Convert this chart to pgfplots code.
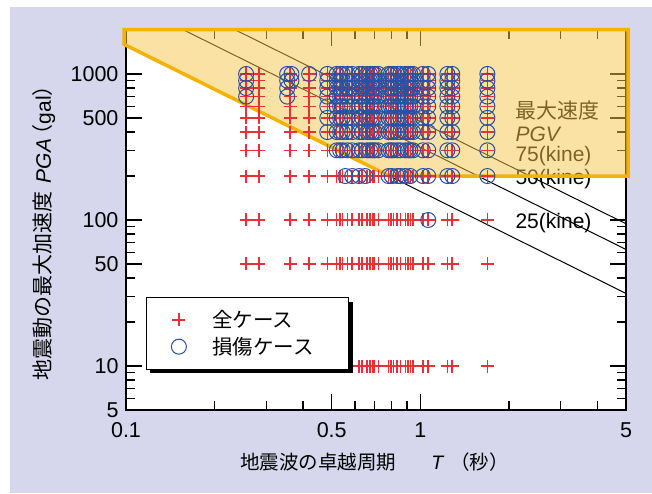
\documentclass[border=0pt]{standalone}
\usepackage{fontspec}
\setmainfont{Liberation Sans}
\newfontfamily\cjk{Noto Sans CJK JP}
\usepackage{pgfplots}
\pgfplotsset{compat=1.18}
\usetikzlibrary{shadows}
\definecolor{bgc}{RGB}{214,214,236}
\definecolor{pred}{RGB}{230,50,55}
\definecolor{pblue}{RGB}{40,80,165}
\definecolor{porange}{RGB}{245,178,0}
\definecolor{pfill}{RGB}{247,199,75}
\begin{document}
\begin{tikzpicture}
\useasboundingbox (-126pt,-83pt) rectangle (526pt,410pt);
\fill[white] (-126pt,-83pt) rectangle (526pt,410pt);
\fill[bgc] (-116pt,-83pt) rectangle (526pt,403pt);
\begin{axis}[
 scale only axis, width=500pt, height=380pt,
 xmode=log, ymode=log, xmin=0.1, xmax=5, ymin=5, ymax=2000,
 clip=false,
 axis background/.style={fill=white},
 axis line style={line width=1.6pt},
 xtick={0.1,0.5,1,5}, xticklabels={0.1,0.5,1,5},
 ytick={5,10,50,100,500,1000}, yticklabels={5,10,50,100,500,1000},
 minor xtick={0.2,0.3,0.4,0.6,0.7,0.8,0.9,2,3,4},
 minor ytick={6,7,8,9,20,30,40,60,70,80,90,200,300,400,600,700,800,900},
 major tick length=16pt, minor tick length=9pt,
 tick style={black, line width=1.4pt},
 tick label style={font=\fontsize{21.5}{25}\selectfont},
 yticklabel style={xshift=-4pt},
 xticklabel style={yshift=-9pt},
 xlabel={{\cjk 地震波の卓越周期}\hspace{1.8em}\textit{T}\hspace{0.3em}{\cjk （秒）}},
 xlabel style={at={(axis description cs:0.497,-0.137)}, anchor=center, font=\fontsize{19.5}{23}\selectfont},
 ylabel={{\cjk 地震動の最大加速度}\hspace{0.4em}\textit{PGA}\hspace{-0.3em}{\cjk （}gal{\cjk ）}},
 ylabel style={at={(axis description cs:-0.164,0.479)}, anchor=center, font=\fontsize{21}{25}\selectfont},
 legend style={at={(0.04,0.297)}, anchor=north west, draw=black, line width=0.8pt, fill=white,
   inner xsep=25pt, inner ysep=11pt, row sep=4pt, column sep=24pt,
   font=\cjk\fontsize{20.5}{24}\selectfont,
   drop shadow={shadow xshift=4pt, shadow yshift=-4pt, fill=black, opacity=1},
   nodes={inner sep=2pt}},
 legend cell align=left,
]
\addplot[only marks, mark=+, mark size=6.5pt, color=pred, line width=1.5pt] table[row sep=\\] {
x y\\
0.256 10\\0.283 10\\0.361 10\\0.419 10\\0.483 10\\0.52 10\\0.534 10\\0.545 10\\0.565 10\\0.587 10\\0.62 10\\0.635 10\\0.66 10\\0.675 10\\0.69 10\\0.70 10\\0.72 10\\0.78 10\\0.795 10\\0.81 10\\0.835 10\\0.855 10\\0.889 10\\0.91 10\\0.925 10\\0.945 10\\1.02 10\\1.064 10\\1.236 10\\1.284 10\\1.69 10\\
0.256 50\\0.283 50\\0.361 50\\0.419 50\\0.483 50\\0.52 50\\0.534 50\\0.545 50\\0.565 50\\0.587 50\\0.62 50\\0.635 50\\0.66 50\\0.675 50\\0.69 50\\0.70 50\\0.72 50\\0.78 50\\0.795 50\\0.81 50\\0.835 50\\0.855 50\\0.889 50\\0.91 50\\0.925 50\\0.945 50\\1.02 50\\1.064 50\\1.236 50\\1.284 50\\1.69 50\\
0.256 100\\0.283 100\\0.361 100\\0.419 100\\0.483 100\\0.52 100\\0.534 100\\0.545 100\\0.565 100\\0.587 100\\0.62 100\\0.635 100\\0.66 100\\0.675 100\\0.69 100\\0.70 100\\0.72 100\\0.78 100\\0.795 100\\0.81 100\\0.835 100\\0.855 100\\0.889 100\\0.91 100\\0.925 100\\0.945 100\\1.02 100\\1.064 100\\1.236 100\\1.284 100\\1.69 100\\
0.256 200\\0.283 200\\0.361 200\\0.419 200\\0.483 200\\0.52 200\\0.534 200\\0.545 200\\0.565 200\\0.587 200\\0.62 200\\0.635 200\\0.66 200\\0.675 200\\0.69 200\\0.70 200\\0.72 200\\0.78 200\\0.795 200\\0.81 200\\0.835 200\\0.855 200\\0.889 200\\0.91 200\\0.925 200\\0.945 200\\1.02 200\\1.064 200\\1.236 200\\1.284 200\\1.69 200\\
0.256 300\\0.283 300\\0.361 300\\0.419 300\\0.483 300\\0.52 300\\0.534 300\\0.545 300\\0.565 300\\0.587 300\\0.62 300\\0.635 300\\0.66 300\\0.675 300\\0.69 300\\0.70 300\\0.72 300\\0.78 300\\0.795 300\\0.81 300\\0.835 300\\0.855 300\\0.889 300\\0.91 300\\0.925 300\\0.945 300\\1.02 300\\1.064 300\\1.236 300\\1.284 300\\1.69 300\\
0.256 400\\0.283 400\\0.361 400\\0.419 400\\0.483 400\\0.52 400\\0.534 400\\0.545 400\\0.565 400\\0.587 400\\0.62 400\\0.635 400\\0.66 400\\0.675 400\\0.69 400\\0.70 400\\0.72 400\\0.78 400\\0.795 400\\0.81 400\\0.835 400\\0.855 400\\0.889 400\\0.91 400\\0.925 400\\0.945 400\\1.02 400\\1.064 400\\1.236 400\\1.284 400\\1.69 400\\
0.256 500\\0.283 500\\0.361 500\\0.419 500\\0.483 500\\0.52 500\\0.534 500\\0.545 500\\0.565 500\\0.587 500\\0.62 500\\0.635 500\\0.66 500\\0.675 500\\0.69 500\\0.70 500\\0.72 500\\0.78 500\\0.795 500\\0.81 500\\0.835 500\\0.855 500\\0.889 500\\0.91 500\\0.925 500\\0.945 500\\1.02 500\\1.064 500\\1.236 500\\1.284 500\\1.69 500\\
0.256 600\\0.283 600\\0.361 600\\0.419 600\\0.483 600\\0.52 600\\0.534 600\\0.545 600\\0.565 600\\0.587 600\\0.62 600\\0.635 600\\0.66 600\\0.675 600\\0.69 600\\0.70 600\\0.72 600\\0.78 600\\0.795 600\\0.81 600\\0.835 600\\0.855 600\\0.889 600\\0.91 600\\0.925 600\\0.945 600\\1.02 600\\1.064 600\\1.236 600\\1.284 600\\1.69 600\\
0.256 700\\0.283 700\\0.361 700\\0.419 700\\0.483 700\\0.52 700\\0.534 700\\0.545 700\\0.565 700\\0.587 700\\0.62 700\\0.635 700\\0.66 700\\0.675 700\\0.69 700\\0.70 700\\0.72 700\\0.78 700\\0.795 700\\0.81 700\\0.835 700\\0.855 700\\0.889 700\\0.91 700\\0.925 700\\0.945 700\\1.02 700\\1.064 700\\1.236 700\\1.284 700\\1.69 700\\
0.256 800\\0.283 800\\0.361 800\\0.419 800\\0.483 800\\0.52 800\\0.534 800\\0.545 800\\0.565 800\\0.587 800\\0.62 800\\0.635 800\\0.66 800\\0.675 800\\0.69 800\\0.70 800\\0.72 800\\0.78 800\\0.795 800\\0.81 800\\0.835 800\\0.855 800\\0.889 800\\0.91 800\\0.925 800\\0.945 800\\1.02 800\\1.064 800\\1.236 800\\1.284 800\\1.69 800\\
0.256 900\\0.283 900\\0.361 900\\0.419 900\\0.483 900\\0.52 900\\0.534 900\\0.545 900\\0.565 900\\0.587 900\\0.62 900\\0.635 900\\0.66 900\\0.675 900\\0.69 900\\0.70 900\\0.72 900\\0.78 900\\0.795 900\\0.81 900\\0.835 900\\0.855 900\\0.889 900\\0.91 900\\0.925 900\\0.945 900\\1.02 900\\1.064 900\\1.236 900\\1.284 900\\1.69 900\\
0.256 1000\\0.283 1000\\0.361 1000\\0.419 1000\\0.483 1000\\0.52 1000\\0.534 1000\\0.545 1000\\0.565 1000\\0.587 1000\\0.62 1000\\0.635 1000\\0.66 1000\\0.675 1000\\0.69 1000\\0.70 1000\\0.72 1000\\0.78 1000\\0.795 1000\\0.81 1000\\0.835 1000\\0.855 1000\\0.889 1000\\0.91 1000\\0.925 1000\\0.945 1000\\1.02 1000\\1.064 1000\\1.236 1000\\1.284 1000\\1.69 1000\\
};
\addlegendentry{全ケース}
\addplot[only marks, mark=o, mark size=7.5pt, color=pblue, line width=1pt] table[row sep=\\] {
x y\\
0.256 700\\0.256 800\\0.256 900\\0.256 1000\\
0.353 700\\0.353 800\\0.353 900\\0.353 1000\\0.365 900\\0.365 1000\\0.419 1000\\
1.064 100\\
0.556 200\\0.587 200\\0.62 200\\0.65 200\\0.78 200\\0.80 200\\0.835 200\\0.855 200\\0.889 200\\0.925 200\\1.02 200\\1.064 200\\1.236 200\\1.284 200\\1.69 200\\
0.52 300\\0.534 300\\0.545 300\\0.565 300\\0.587 300\\0.62 300\\0.635 300\\0.66 300\\0.675 300\\0.69 300\\0.70 300\\0.72 300\\0.78 300\\0.795 300\\0.81 300\\0.835 300\\0.855 300\\0.889 300\\0.91 300\\0.925 300\\0.945 300\\1.02 300\\1.064 300\\1.236 300\\1.284 300\\1.69 300\\
0.483 400\\0.52 400\\0.534 400\\0.545 400\\0.565 400\\0.587 400\\0.62 400\\0.635 400\\0.66 400\\0.675 400\\0.69 400\\0.70 400\\0.72 400\\0.78 400\\0.795 400\\0.81 400\\0.835 400\\0.855 400\\0.889 400\\0.91 400\\0.925 400\\0.945 400\\1.02 400\\1.064 400\\1.236 400\\1.284 400\\1.69 400\\
0.483 500\\0.52 500\\0.534 500\\0.545 500\\0.565 500\\0.587 500\\0.62 500\\0.635 500\\0.66 500\\0.675 500\\0.69 500\\0.70 500\\0.72 500\\0.78 500\\0.795 500\\0.81 500\\0.835 500\\0.855 500\\0.889 500\\0.91 500\\0.925 500\\0.945 500\\1.02 500\\1.064 500\\1.236 500\\1.284 500\\1.69 500\\
0.483 600\\0.52 600\\0.534 600\\0.545 600\\0.565 600\\0.587 600\\0.62 600\\0.635 600\\0.66 600\\0.675 600\\0.69 600\\0.70 600\\0.72 600\\0.78 600\\0.795 600\\0.81 600\\0.835 600\\0.855 600\\0.889 600\\0.91 600\\0.925 600\\0.945 600\\1.02 600\\1.064 600\\1.236 600\\1.284 600\\1.69 600\\
0.483 700\\0.52 700\\0.534 700\\0.545 700\\0.565 700\\0.587 700\\0.62 700\\0.635 700\\0.66 700\\0.675 700\\0.69 700\\0.70 700\\0.72 700\\0.78 700\\0.795 700\\0.81 700\\0.835 700\\0.855 700\\0.889 700\\0.91 700\\0.925 700\\0.945 700\\1.02 700\\1.064 700\\1.236 700\\1.284 700\\1.69 700\\
0.483 800\\0.52 800\\0.534 800\\0.545 800\\0.565 800\\0.587 800\\0.62 800\\0.635 800\\0.66 800\\0.675 800\\0.69 800\\0.70 800\\0.72 800\\0.78 800\\0.795 800\\0.81 800\\0.835 800\\0.855 800\\0.889 800\\0.91 800\\0.925 800\\0.945 800\\1.02 800\\1.064 800\\1.236 800\\1.284 800\\1.69 800\\
0.483 900\\0.52 900\\0.534 900\\0.545 900\\0.565 900\\0.587 900\\0.62 900\\0.635 900\\0.66 900\\0.675 900\\0.69 900\\0.70 900\\0.72 900\\0.78 900\\0.795 900\\0.81 900\\0.835 900\\0.855 900\\0.889 900\\0.91 900\\0.925 900\\0.945 900\\1.02 900\\1.064 900\\1.236 900\\1.284 900\\1.69 900\\
0.483 1000\\0.52 1000\\0.534 1000\\0.545 1000\\0.565 1000\\0.587 1000\\0.62 1000\\0.635 1000\\0.66 1000\\0.675 1000\\0.69 1000\\0.70 1000\\0.72 1000\\0.78 1000\\0.795 1000\\0.81 1000\\0.835 1000\\0.855 1000\\0.889 1000\\0.91 1000\\0.925 1000\\0.945 1000\\1.02 1000\\1.064 1000\\1.236 1000\\1.284 1000\\1.69 1000\\
};
\addlegendentry{損傷ケース\hspace*{8pt}}
\addplot[forget plot, black, line width=1pt] coordinates {(0.1,1570.8) (5,31.416)};
\addplot[forget plot, black, line width=1pt] coordinates {(0.15708,2000) (5,62.832)};
\addplot[forget plot, black, line width=1pt] coordinates {(0.23562,2000) (5,94.248)};
\node[anchor=west, inner sep=0pt, font=\cjk\fontsize{21}{25}\selectfont] at (axis cs:2.104,559) {最大速度};
\node[anchor=west, inner sep=0pt, font=\fontsize{21}{25}\selectfont\itshape] at (axis cs:2.104,389) {PGV};
\node[anchor=west, inner sep=0pt, font=\fontsize{21}{25}\selectfont] at (axis cs:2.104,275) {75(kine)};
\node[anchor=west, inner sep=0pt, font=\fontsize{21}{25}\selectfont] at (axis cs:2.104,192) {50(kine)};
\node[anchor=west, inner sep=0pt, font=\fontsize{21}{25}\selectfont] at (axis cs:2.104,96) {25(kine)};
\addplot[forget plot, draw=porange, line width=3.5pt, fill=pfill, fill opacity=0.5, line join=miter] coordinates {(0.0985,2010) (5.08,2010) (5.08,200) (0.7854,200) (0.0985,1595)} -- cycle;
\end{axis}
\end{tikzpicture}
\end{document}
